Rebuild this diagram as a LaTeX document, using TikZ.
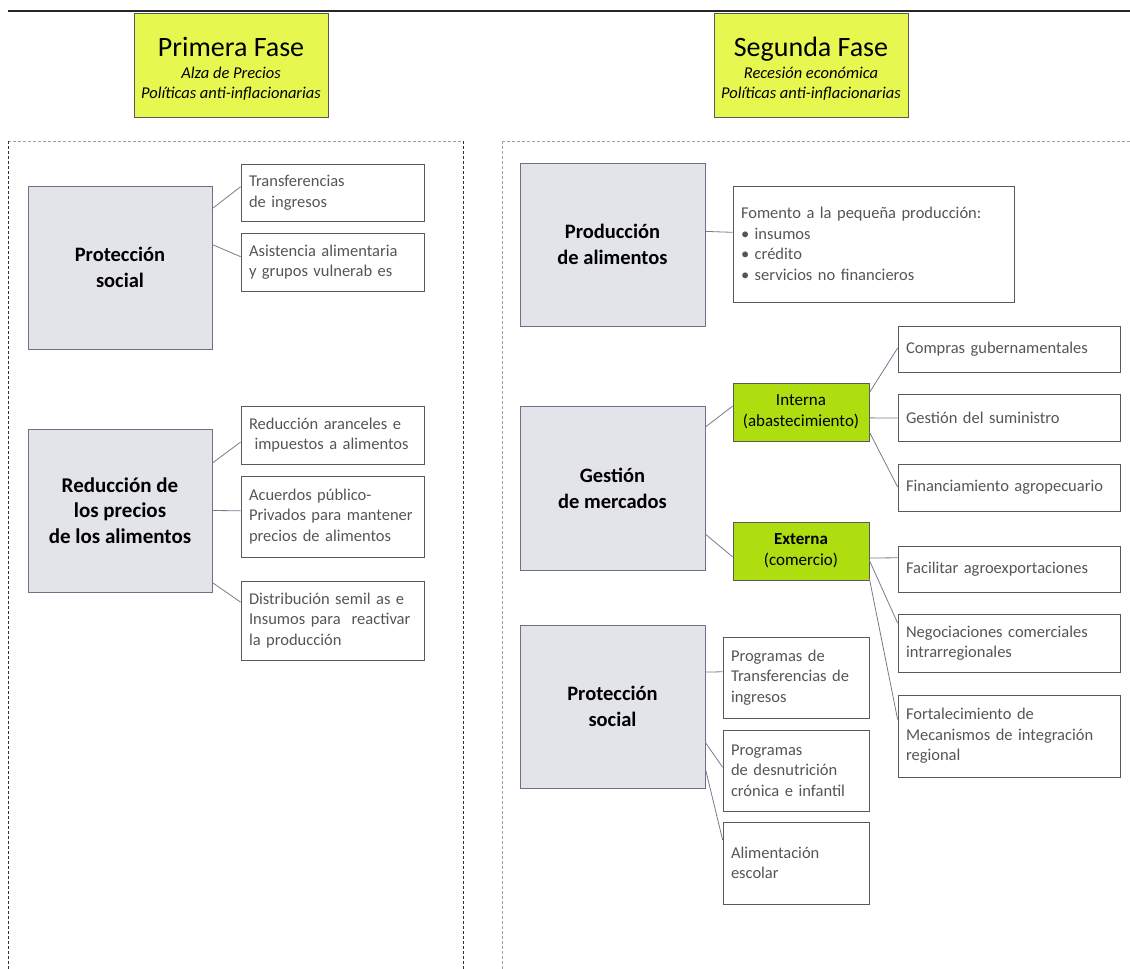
\documentclass[tikz,border=0pt]{standalone}
\usepackage{fontspec}
\setmainfont{Carlito}
\usetikzlibrary{calc}
\definecolor{hdrfill}{HTML}{E6F850}
\definecolor{grnfill}{HTML}{AEDD10}
\definecolor{grayfill}{HTML}{E3E4EA}
\definecolor{mainbord}{HTML}{6E7088}
\definecolor{cbord}{HTML}{5A5A5A}
\definecolor{ctext}{HTML}{555555}
\definecolor{connc}{HTML}{7C7890}
\definecolor{dashlight}{HTML}{A0A0A0}
\definecolor{dashdark}{HTML}{333333}
\tikzset{
  hdrbox/.style={draw=cbord, fill=hdrfill, line width=0.8pt, inner sep=0pt},
  hdrtext/.style={align=center, font=\fontsize{16.5}{20}\selectfont, inner sep=0pt},
  mainbox/.style={draw=mainbord, fill=grayfill, line width=0.8pt, align=center,
    font=\bfseries\fontsize{20.5}{26}\selectfont, inner sep=0pt, minimum width=185pt, minimum height=163pt},
  childbox/.style={draw=cbord, fill=white, line width=0.8pt, align=left, text=ctext,
    font=\fontsize{16.5}{20.5}\selectfont, inner xsep=8pt, inner ysep=0pt},
  grnbox/.style={draw=cbord, fill=grnfill, line width=0.8pt, align=center,
    font=\fontsize{17}{21}\selectfont, inner sep=0pt, minimum width=136pt, minimum height=58pt},
  conn/.style={draw=connc, line width=0.8pt},
  paneldark/.style={draw=dashdark, line width=0.8pt, dash pattern=on 3pt off 2pt},
  panellight/.style={draw=dashlight, line width=0.8pt, dash pattern=on 3pt off 2pt}
}
\begin{document}
\begin{tikzpicture}[x=1pt,y=-1pt]
\useasboundingbox (0,0) rectangle (1130,969);
% top rule
\coordinate (ruleL) at (8,11);
\coordinate (ruleR) at (1130,11);
\draw[line width=2pt, draw=black!85] (ruleL) -- (ruleR);
% panels
\coordinate (lpTL) at (8,141);
\coordinate (lpTR) at (463,141);
\coordinate (lpBL) at (8,969);
\coordinate (lpBR) at (463,969);
\coordinate (rpTL) at (502,141);
\coordinate (rpTR) at (1130,141);
\coordinate (rpBL) at (502,969);
\draw[panellight] (lpTL) -- (lpTR);
\draw[paneldark] (lpTL) -- (lpBL);
\draw[paneldark] (lpTR) -- (lpBR);
\draw[panellight] (rpTL) -- (rpTR);
\draw[panellight] (rpTL) -- (rpBL);
% headers
\node[hdrbox, minimum width=194pt, minimum height=104pt] (h1) at (231,65) {};
\node[hdrtext] (h1t) at (231,69) {{\fontsize{28}{28}\selectfont Primera Fase}\\[2pt]{\itshape Alza de Precios}\\{\itshape Políticas anti-inflacionarias}};
\node[hdrbox, minimum width=194pt, minimum height=104pt] (h2) at (811,65) {};
\node[hdrtext] (h2t) at (811,69) {{\fontsize{28}{28}\selectfont Segunda Fase}\\[2pt]{\itshape Recesión económica}\\{\itshape Políticas anti-inflacionarias}};
% ---------- left panel ----------
\node[mainbox, minimum width=184pt] (ps) at (120,267.5) {Protección\\social};
\node[childbox, text width=167pt, minimum height=57pt] (t1) at (332.5,192.5) {Transferencias\\de ingresos};
\node[childbox, text width=167pt, minimum height=58pt] (t2) at (332.5,262) {Asistencia alimentaria\\y grupos vulnerab es};
\draw[conn] ($(ps.north east)!0.14!(ps.south east)$) -- ($(t1.north west)!0.40!(t1.south west)$);
\draw[conn] ($(ps.north east)!0.36!(ps.south east)$) -- ($(t2.north west)!0.41!(t2.south west)$);

\node[mainbox, minimum width=184pt, font=\bfseries\fontsize{21}{25.5}\selectfont] (rp) at (120,510.5) {Reducción de\\los precios\\de los alimentos};
\node[childbox, text width=167pt, minimum height=58pt] (r1) at (332.5,435) {Reducción aranceles e\\\ impuestos a alimentos};
\node[childbox, text width=167pt, minimum height=81pt] (r2) at (332.5,516.5) {Acuerdos público-\\Privados para mantener\\precios de alimentos};
\node[childbox, text width=167pt, minimum height=79pt] (r3) at (332.5,620.5) {Distribución semil as e\\Insumos para\ \ reactivar\\la producción};
\draw[conn] ($(rp.north east)!0.21!(rp.south east)$) -- ($(r1.north west)!0.62!(r1.south west)$);
\draw[conn] ($(rp.north east)!0.50!(rp.south east)$) -- ($(r2.north west)!0.43!(r2.south west)$);
\draw[conn] ($(rp.north east)!0.94!(rp.south east)$) -- ($(r3.north west)!0.27!(r3.south west)$);
% ---------- right panel ----------
\node[mainbox] (pa) at (612.5,244.5) {Producción\\de alimentos};
\node[childbox, text width=265pt, minimum height=116pt] (fo) at (873.5,244) {Fomento a la pequeña producción:\\\textbullet\ insumos\\\textbullet\ crédito\\\textbullet\ servicios no financieros};
\draw[conn] ($(pa.north east)!0.42!(pa.south east)$) -- ($(fo.north west)!0.40!(fo.south west)$);

\node[mainbox, minimum height=164pt] (gm) at (612.5,488) {Gestión\\de mercados};
\node[grnbox] (in) at (801,412) {Interna\\(abastecimiento)};
\node[grnbox] (ex) at (801,551) {\textbf{Externa}\\(comercio)};
\draw[conn] ($(gm.north east)!0.13!(gm.south east)$) -- ($(in.north west)!0.40!(in.south west)$);
\draw[conn] ($(gm.north east)!0.78!(gm.south east)$) -- ($(ex.north west)!0.60!(ex.south west)$);

\node[childbox, text width=206pt, minimum height=46pt] (c1) at (1009,349) {Compras gubernamentales};
\node[childbox, text width=206pt, minimum height=47pt] (c2) at (1009,417.5) {Gestión del suministro};
\node[childbox, text width=206pt, minimum height=47pt] (c3) at (1009,487.5) {Financiamiento agropecuario};
\draw[conn] ($(in.north east)!0.17!(in.south east)$) -- ($(c1.north west)!0.48!(c1.south west)$);
\draw[conn] ($(in.north east)!0.60!(in.south east)$) -- ($(c2.north west)!0.51!(c2.south west)$);
\draw[conn] ($(in.north east)!0.84!(in.south east)$) -- ($(c3.north west)!0.49!(c3.south west)$);

\node[childbox, text width=206pt, minimum height=46pt] (e1) at (1009,569) {Facilitar agroexportaciones};
\node[childbox, text width=206pt, minimum height=58pt] (e2) at (1009,643) {Negociaciones comerciales\\intrarregionales};
\node[childbox, text width=206pt, minimum height=82pt] (e3) at (1009,736) {Fortalecimiento de\\Mecanismos de integración\\regional};
\draw[conn] ($(ex.north east)!0.62!(ex.south east)$) -- ($(e1.north west)!0.26!(e1.south west)$);
\draw[conn] ($(ex.north east)!0.66!(ex.south east)$) -- ($(e2.north west)!0.16!(e2.south west)$);
\draw[conn] ($(ex.north east)!0.97!(ex.south east)$) -- ($(e3.north west)!0.30!(e3.south west)$);

\node[mainbox] (ps2) at (612.5,706.5) {Protección\\social};
\node[childbox, text width=130pt, minimum height=81pt] (s1) at (796,677.5) {Programas de\\Transferencias de\\ingresos};
\node[childbox, text width=130pt, minimum height=81pt] (s2) at (796,770.5) {Programas\\de desnutrición\\crónica e infantil};
\node[childbox, text width=130pt, minimum height=82pt] (s3) at (796,863) {Alimentación\\escolar};
\draw[conn] ($(ps2.north east)!0.29!(ps2.south east)$) -- ($(s1.north west)!0.43!(s1.south west)$);
\draw[conn] ($(ps2.north east)!0.72!(ps2.south east)$) -- ($(s2.north west)!0.46!(s2.south west)$);
\draw[conn] ($(ps2.north east)!0.88!(ps2.south east)$) -- ($(s3.north west)!0.22!(s3.south west)$);
\end{tikzpicture}
\end{document}
